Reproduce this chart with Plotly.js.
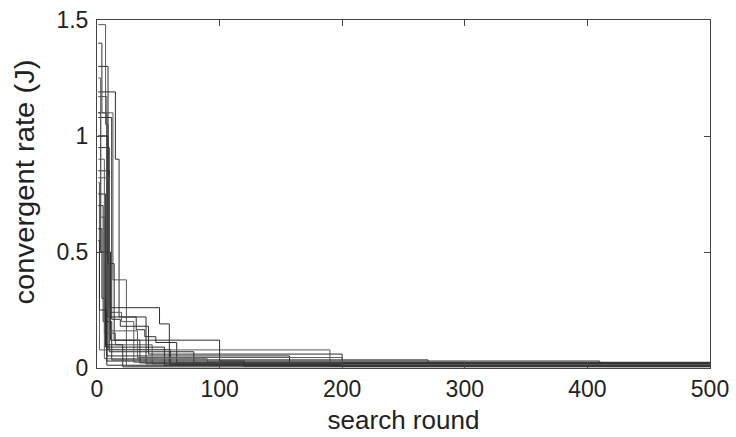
<!DOCTYPE html>
<html>
<head>
<meta charset="utf-8">
<script src="https://cdn.plot.ly/plotly-3.0.1.min.js"></script>
<style>html,body{margin:0;padding:0;background:#fff;}#chart{width:736px;height:437px;}</style>
</head>
<body>
<div id="chart"></div>
<script>
// search round breakpoints (x) and convergent rate levels (y) for each run, step-wise ('hv')
const run1X = [1, 7, 9, 60, 500];           const run1Y = [1.48, 1.05, 0.08, 0.02, 0.02];
const run2X = [1, 4, 8, 500];               const run2Y = [1.40, 1.10, 0.012, 0.012];
const run3X = [1, 15, 18, 40, 500];         const run3Y = [1.19, 0.90, 0.22, 0.018, 0.018];
const run4X = [1, 13, 24, 500];             const run4Y = [1.10, 0.38, 0.01, 0.01];
const run5X = [1, 10, 51, 59, 500];         const run5Y = [0.95, 0.26, 0.19, 0.015, 0.015];
const run6X = [1, 9, 32, 39, 48, 65, 500];  const run6Y = [1.30, 0.22, 0.165, 0.135, 0.11, 0.022, 0.022];
const run7X = [1, 2, 190, 500];             const run7Y = [0.80, 0.078, 0.008, 0.008];
const run8X = [1, 8, 157, 500];             const run8Y = [1.00, 0.052, 0.02, 0.02];
const run9X = [1, 10, 79, 500];             const run9Y = [0.85, 0.07, 0.016, 0.016];
const run10X = [1, 8, 20, 30, 500];         const run10Y = [1.17, 0.24, 0.20, 0.025, 0.025];
const run11X = [1, 5, 12, 270, 500];        const run11Y = [0.70, 0.20, 0.035, 0.02, 0.02];
const run12X = [1, 3, 11, 100, 410, 500];   const run12Y = [1.10, 0.50, 0.12, 0.03, 0.02, 0.02];
const run13X = [1, 6, 15, 45, 500];         const run13Y = [0.90, 0.15, 0.10, 0.018, 0.018];
const run14X = [1, 4, 7, 55, 500];          const run14Y = [0.60, 0.30, 0.09, 0.012, 0.012];
const run15X = [1, 12, 19, 42, 200, 500];   const run15Y = [1.08, 0.21, 0.18, 0.06, 0.02, 0.02];
const run16X = [1, 3, 6, 90, 300, 500];     const run16Y = [1.25, 0.65, 0.04, 0.025, 0.015, 0.015];
const run17X = [1, 9, 14, 35, 500];         const run17Y = [1.00, 0.45, 0.12, 0.022, 0.022];
const run18X = [1, 2, 8, 120, 500];         const run18Y = [0.55, 0.25, 0.03, 0.008, 0.008];
const run19X = [1, 10, 33, 200, 500];       const run19Y = [0.82, 0.16, 0.045, 0.015, 0.015];
const run20X = [1, 7, 21, 500];             const run20Y = [0.75, 0.10, 0.005, 0.005];

const xTicks = [0, 100, 200, 300, 400, 500];
const yTicks = [0, 0.5, 1, 1.5];

const runs = [
  [run1X, run1Y], [run2X, run2Y], [run3X, run3Y], [run4X, run4Y], [run5X, run5Y],
  [run6X, run6Y], [run7X, run7Y], [run8X, run8Y], [run9X, run9Y], [run10X, run10Y],
  [run11X, run11Y], [run12X, run12Y], [run13X, run13Y], [run14X, run14Y], [run15X, run15Y],
  [run16X, run16Y], [run17X, run17Y], [run18X, run18Y], [run19X, run19Y], [run20X, run20Y]
];

const traces = runs.map(function (r, i) {
  return {
    x: r[0], y: r[1], type: 'scatter', mode: 'lines',
    line: {shape: 'hv', width: 1, color: i % 3 === 0 ? '#5a5a5a' : '#2e2e2e'},
    showlegend: false, hoverinfo: 'skip'
  };
});

const fam = 'Liberation Sans, Arial, sans-serif';
const tickFont = {family: fam, size: 23, color: '#222'};
const xTitleFont = {family: fam, size: 26, color: '#222'};
const yTitleFont = {family: fam, size: 27, color: '#222'};
const axisCommon = {
  showgrid: false, zeroline: false, showline: true, linecolor: '#444', linewidth: 1,
  mirror: 'ticks', ticks: 'inside', ticklen: 6, tickcolor: '#444', tickwidth: 1,
  tickfont: tickFont, automargin: false
};

const layout = {
  width: 736, height: 437,
  margin: {l: 97, r: 26, t: 20, b: 69},
  paper_bgcolor: '#fff', plot_bgcolor: '#fff',
  font: tickFont,
  xaxis: Object.assign({}, axisCommon, {
    range: [0, 500], tickvals: xTicks, ticktext: xTicks.map(String),
    ticklabelstandoff: 0,
    title: {text: 'search round', font: xTitleFont, standoff: 10}
  }),
  yaxis: Object.assign({}, axisCommon, {
    range: [0, 1.5], tickvals: yTicks, ticktext: yTicks.map(String),
    ticklabelstandoff: 3,
    title: {text: 'convergent rate (J)', font: yTitleFont, standoff: 13}
  })
};

Plotly.newPlot('chart', traces, layout, {displayModeBar: false, staticPlot: true}).then(function () {
  var t = document.querySelector('text.ytitle');
  if (t) {
    t.setAttribute('textLength', '245');
    t.setAttribute('lengthAdjust', 'spacingAndGlyphs');
    t.setAttribute('dx', '12');
  }
});
</script>
</body>
</html>
